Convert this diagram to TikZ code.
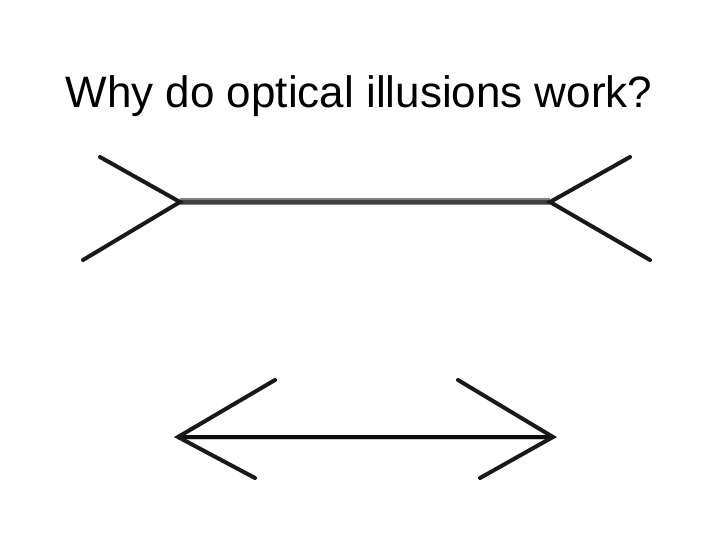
\documentclass[tikz,border=0pt]{standalone}
\usepackage{fontspec}
\setmainfont{Liberation Sans}
\begin{document}
\begin{tikzpicture}[x=1pt,y=-1pt,
  fin/.style={line width=4pt,black!90,line cap=round},
  shaftouter/.style={line width=7pt,black!50},
  shaftinner/.style={line width=3.5pt,black!75},
  shaftb/.style={line width=5pt,black!20},
  shaftbin/.style={line width=3.5pt,black!95}]
\useasboundingbox (0,0) rectangle (720,540);
\node[anchor=base,inner sep=0pt,font=\fontsize{44}{52}\selectfont] (title) at (359,108) {Why do optical illusions work?};
% top figure
\coordinate (tl) at (180,202);
\coordinate (tr) at (550,202);
\coordinate (tlu) at (100,157);
\coordinate (tld) at (83,260);
\coordinate (tru) at (630,157);
\coordinate (trd) at (650,260);
\draw[shaftouter] (tl) -- (tr);
\draw[shaftinner] (tl) -- (tr);
\draw[fin] (tlu) -- (tl) -- (tld);
\draw[fin] (tru) -- (tr) -- (trd);
% bottom figure
\coordinate (bl) at (178,437);
\coordinate (br) at (553,437);
\coordinate (blu) at (275,380);
\coordinate (bld) at (255,478);
\coordinate (bru) at (458,380);
\coordinate (brd) at (480,478);
\draw[shaftb] (bl) -- (br);
\draw[shaftbin] (bl) -- (br);
\draw[fin,line join=miter] (blu) -- (bl) -- (bld);
\draw[fin,line join=miter] (bru) -- (br) -- (brd);
\end{tikzpicture}
\end{document}
